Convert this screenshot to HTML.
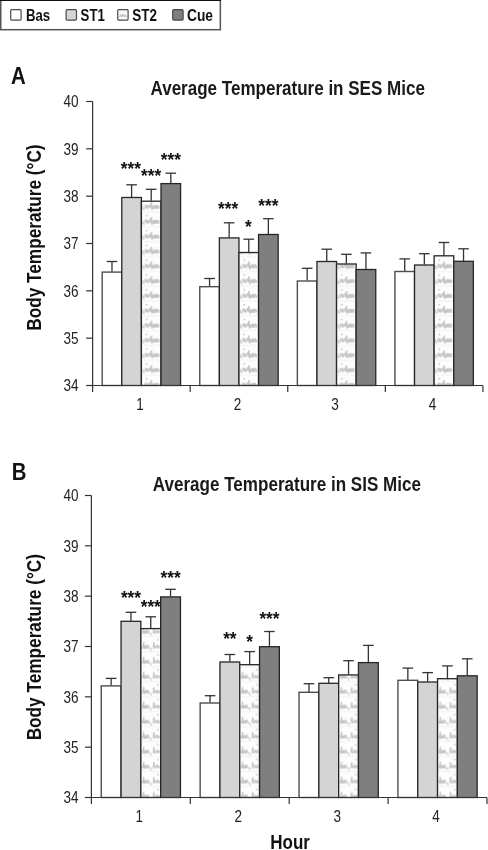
<!DOCTYPE html>
<html><head><meta charset="utf-8"><style>
html,body{margin:0;padding:0;background:#fff;}
svg{display:block;will-change:transform;}
text{font-family:"Liberation Sans",sans-serif;fill:#111;}
.tick{font-size:16.5px;fill:#222;}
.star{font-size:18px;font-weight:bold;text-anchor:middle;}
.title{font-size:20px;font-weight:bold;fill:#1a1a1a;}
.letter{font-size:24px;font-weight:bold;}
.ylab{font-size:21px;font-weight:bold;}
.leg{font-size:16px;font-weight:bold;}
.ax{stroke:#333;stroke-width:1.2;}
.eb{stroke:#333;stroke-width:1.3;}
.bar{stroke:#262626;stroke-width:1.3;}
.bas{stroke:#4e4e4e;stroke-width:1.4;}
.lb{stroke:#4a4a4a;stroke-width:1.2;}
</style></head><body>
<svg width="488" height="850" viewBox="0 0 488 850">
<defs>
<pattern id="p0" patternUnits="userSpaceOnUse" x="141.39" y="199.19" width="60" height="14.83"><rect width="60" height="14.83" fill="#fdfdfd"/><path d="M1.2,-0.8 L1.6,1.8 L2.6,2.4 L3.4,0.2 L4.2,-1.4 L5.1,1.4 L6,-1.2 L6.8,1.6 L7.6,-0.2 L8.4,-1.6 L9.2,1.2 L10,-3.3 L10.7,2.6 L11.6,-0.6 L12.4,1.8 L13.2,-1.2 L14,1.8 L14.8,-1.2 L15.6,1.6 L16.4,-1.2 L17.2,1.6 L18,-0.6" transform="translate(0,7.42) scale(1,1.35)" fill="none" stroke="#b6b6b6" stroke-width="0.7" stroke-linejoin="round"/><line x1="1" y1="12.82" x2="19" y2="12.82" stroke="#ececec" stroke-width="0.8"/><circle cx="5.3" cy="1.71" r="0.85" fill="#c4c4c4"/></pattern>
<pattern id="p1" patternUnits="userSpaceOnUse" x="238.97" y="199.19" width="60" height="14.83"><rect width="60" height="14.83" fill="#fdfdfd"/><path d="M1.2,-0.8 L1.6,1.8 L2.6,2.4 L3.4,0.2 L4.2,-1.4 L5.1,1.4 L6,-1.2 L6.8,1.6 L7.6,-0.2 L8.4,-1.6 L9.2,1.2 L10,-3.3 L10.7,2.6 L11.6,-0.6 L12.4,1.8 L13.2,-1.2 L14,1.8 L14.8,-1.2 L15.6,1.6 L16.4,-1.2 L17.2,1.6 L18,-0.6" transform="translate(0,7.42) scale(1,1.35)" fill="none" stroke="#b6b6b6" stroke-width="0.7" stroke-linejoin="round"/><line x1="1" y1="12.82" x2="19" y2="12.82" stroke="#ececec" stroke-width="0.8"/><circle cx="5.3" cy="1.71" r="0.85" fill="#c4c4c4"/></pattern>
<pattern id="p2" patternUnits="userSpaceOnUse" x="336.55" y="199.19" width="60" height="14.83"><rect width="60" height="14.83" fill="#fdfdfd"/><path d="M1.2,-0.8 L1.6,1.8 L2.6,2.4 L3.4,0.2 L4.2,-1.4 L5.1,1.4 L6,-1.2 L6.8,1.6 L7.6,-0.2 L8.4,-1.6 L9.2,1.2 L10,-3.3 L10.7,2.6 L11.6,-0.6 L12.4,1.8 L13.2,-1.2 L14,1.8 L14.8,-1.2 L15.6,1.6 L16.4,-1.2 L17.2,1.6 L18,-0.6" transform="translate(0,7.42) scale(1,1.35)" fill="none" stroke="#b6b6b6" stroke-width="0.7" stroke-linejoin="round"/><line x1="1" y1="12.82" x2="19" y2="12.82" stroke="#ececec" stroke-width="0.8"/><circle cx="5.3" cy="1.71" r="0.85" fill="#c4c4c4"/></pattern>
<pattern id="p3" patternUnits="userSpaceOnUse" x="434.13" y="199.19" width="60" height="14.83"><rect width="60" height="14.83" fill="#fdfdfd"/><path d="M1.2,-0.8 L1.6,1.8 L2.6,2.4 L3.4,0.2 L4.2,-1.4 L5.1,1.4 L6,-1.2 L6.8,1.6 L7.6,-0.2 L8.4,-1.6 L9.2,1.2 L10,-3.3 L10.7,2.6 L11.6,-0.6 L12.4,1.8 L13.2,-1.2 L14,1.8 L14.8,-1.2 L15.6,1.6 L16.4,-1.2 L17.2,1.6 L18,-0.6" transform="translate(0,7.42) scale(1,1.35)" fill="none" stroke="#b6b6b6" stroke-width="0.7" stroke-linejoin="round"/><line x1="1" y1="12.82" x2="19" y2="12.82" stroke="#ececec" stroke-width="0.8"/><circle cx="5.3" cy="1.71" r="0.85" fill="#c4c4c4"/></pattern>
<pattern id="p4" patternUnits="userSpaceOnUse" x="140.85" y="623.71" width="60" height="14.98"><rect width="60" height="14.98" fill="#fdfdfd"/><path d="M1.2,-0.5 L2,1.8 L2.8,-3 L3.4,2 L4.3,-0.5 L5,1.8 L5.8,-0.8 L6.6,1.8 L7.4,-0.8 L8.3,1.6 L9.4,1.2 L10.6,3.4 M12,1.8 L13,-2.8 L14,1.8 L14.4,0 M14.8,1.2 L15.6,-0.8 L16.4,1.6 L17.2,-0.8 L18,1.6 L18.6,-0.2" transform="translate(0,7.49) scale(1,1.35)" fill="none" stroke="#b6b6b6" stroke-width="0.7" stroke-linejoin="round"/><line x1="1" y1="12.89" x2="19" y2="12.89" stroke="#ececec" stroke-width="0.8"/><circle cx="17.1" cy="1.09" r="0.85" fill="#c4c4c4"/></pattern>
<pattern id="p5" patternUnits="userSpaceOnUse" x="239.75" y="623.71" width="60" height="14.98"><rect width="60" height="14.98" fill="#fdfdfd"/><path d="M1.2,-0.5 L2,1.8 L2.8,-3 L3.4,2 L4.3,-0.5 L5,1.8 L5.8,-0.8 L6.6,1.8 L7.4,-0.8 L8.3,1.6 L9.4,1.2 L10.6,3.4 M12,1.8 L13,-2.8 L14,1.8 L14.4,0 M14.8,1.2 L15.6,-0.8 L16.4,1.6 L17.2,-0.8 L18,1.6 L18.6,-0.2" transform="translate(0,7.49) scale(1,1.35)" fill="none" stroke="#b6b6b6" stroke-width="0.7" stroke-linejoin="round"/><line x1="1" y1="12.89" x2="19" y2="12.89" stroke="#ececec" stroke-width="0.8"/><circle cx="17.1" cy="1.09" r="0.85" fill="#c4c4c4"/></pattern>
<pattern id="p6" patternUnits="userSpaceOnUse" x="338.65" y="623.71" width="60" height="14.98"><rect width="60" height="14.98" fill="#fdfdfd"/><path d="M1.2,-0.5 L2,1.8 L2.8,-3 L3.4,2 L4.3,-0.5 L5,1.8 L5.8,-0.8 L6.6,1.8 L7.4,-0.8 L8.3,1.6 L9.4,1.2 L10.6,3.4 M12,1.8 L13,-2.8 L14,1.8 L14.4,0 M14.8,1.2 L15.6,-0.8 L16.4,1.6 L17.2,-0.8 L18,1.6 L18.6,-0.2" transform="translate(0,7.49) scale(1,1.35)" fill="none" stroke="#b6b6b6" stroke-width="0.7" stroke-linejoin="round"/><line x1="1" y1="12.89" x2="19" y2="12.89" stroke="#ececec" stroke-width="0.8"/><circle cx="17.1" cy="1.09" r="0.85" fill="#c4c4c4"/></pattern>
<pattern id="p7" patternUnits="userSpaceOnUse" x="437.55" y="623.71" width="60" height="14.98"><rect width="60" height="14.98" fill="#fdfdfd"/><path d="M1.2,-0.5 L2,1.8 L2.8,-3 L3.4,2 L4.3,-0.5 L5,1.8 L5.8,-0.8 L6.6,1.8 L7.4,-0.8 L8.3,1.6 L9.4,1.2 L10.6,3.4 M12,1.8 L13,-2.8 L14,1.8 L14.4,0 M14.8,1.2 L15.6,-0.8 L16.4,1.6 L17.2,-0.8 L18,1.6 L18.6,-0.2" transform="translate(0,7.49) scale(1,1.35)" fill="none" stroke="#b6b6b6" stroke-width="0.7" stroke-linejoin="round"/><line x1="1" y1="12.89" x2="19" y2="12.89" stroke="#ececec" stroke-width="0.8"/><circle cx="17.1" cy="1.09" r="0.85" fill="#c4c4c4"/></pattern>

</defs>
<rect width="488" height="850" fill="#fff"/>

<rect x="0.75" y="-1" width="219.6" height="30.7" fill="#fff" stroke="#555" stroke-width="1.5"/>
<line x1="0" y1="0.5" x2="221" y2="0.5" stroke="#111" stroke-width="1.2"/>
<rect x="10.7" y="9.7" width="10.4" height="10.4" rx="1" fill="#fff" class="lb"/>
<rect x="66.1" y="9.7" width="10.4" height="10.4" rx="1" fill="#d4d4d4" class="lb"/>
<rect x="117.7" y="9.7" width="10.4" height="10.4" rx="1" fill="#fafafa" class="lb"/>
<path d="M119,15.5 L119.8,17 L120.6,14.8 L121.4,16.8 L122.2,14.2 L123,16.6 L123.8,14.6 L124.6,16.8 L125.4,14.8 L126.2,16.8 L127.2,15.6" fill="none" stroke="#b8b8b8" stroke-width="0.9"/>
<rect x="172.7" y="9.7" width="10.4" height="10.4" rx="1" fill="#7f7f7f" class="lb"/>
<text class="leg" transform="translate(26.0,21.0) scale(0.825,1)">Bas</text>
<text class="leg" transform="translate(80.6,21.0) scale(0.825,1)">ST1</text>
<text class="leg" transform="translate(132.3,21.0) scale(0.843,1)">ST2</text>
<text class="leg" transform="translate(187.0,21.0) scale(0.861,1)">Cue</text>

<line x1="111.99" y1="271.70" x2="111.99" y2="261.50" class="eb"/>
<line x1="106.69" y1="261.50" x2="117.29" y2="261.50" class="eb"/>
<rect x="102.19" y="272.10" width="19.60" height="113.40" fill="#ffffff" class="bar bas"/>
<line x1="131.59" y1="197.10" x2="131.59" y2="184.80" class="eb"/>
<line x1="126.29" y1="184.80" x2="136.89" y2="184.80" class="eb"/>
<rect x="121.79" y="197.50" width="19.60" height="188.00" fill="#d4d4d4" class="bar"/>
<line x1="151.19" y1="200.80" x2="151.19" y2="189.30" class="eb"/>
<line x1="145.89" y1="189.30" x2="156.49" y2="189.30" class="eb"/>
<rect x="141.39" y="201.20" width="19.60" height="184.30" fill="url(#p0)" class="bar"/>
<line x1="170.79" y1="183.20" x2="170.79" y2="173.20" class="eb"/>
<line x1="165.49" y1="173.20" x2="176.09" y2="173.20" class="eb"/>
<rect x="160.99" y="183.60" width="19.60" height="201.90" fill="#7f7f7f" class="bar"/>
<line x1="209.57" y1="286.30" x2="209.57" y2="278.50" class="eb"/>
<line x1="204.27" y1="278.50" x2="214.87" y2="278.50" class="eb"/>
<rect x="199.77" y="286.70" width="19.60" height="98.80" fill="#ffffff" class="bar bas"/>
<line x1="229.17" y1="237.50" x2="229.17" y2="222.80" class="eb"/>
<line x1="223.87" y1="222.80" x2="234.47" y2="222.80" class="eb"/>
<rect x="219.37" y="237.90" width="19.60" height="147.60" fill="#d4d4d4" class="bar"/>
<line x1="248.77" y1="252.10" x2="248.77" y2="239.20" class="eb"/>
<line x1="243.47" y1="239.20" x2="254.07" y2="239.20" class="eb"/>
<rect x="238.97" y="252.50" width="19.60" height="133.00" fill="url(#p1)" class="bar"/>
<line x1="268.37" y1="234.10" x2="268.37" y2="218.70" class="eb"/>
<line x1="263.07" y1="218.70" x2="273.67" y2="218.70" class="eb"/>
<rect x="258.57" y="234.50" width="19.60" height="151.00" fill="#7f7f7f" class="bar"/>
<line x1="307.15" y1="280.60" x2="307.15" y2="268.30" class="eb"/>
<line x1="301.85" y1="268.30" x2="312.45" y2="268.30" class="eb"/>
<rect x="297.35" y="281.00" width="19.60" height="104.50" fill="#ffffff" class="bar bas"/>
<line x1="326.75" y1="261.10" x2="326.75" y2="249.20" class="eb"/>
<line x1="321.45" y1="249.20" x2="332.05" y2="249.20" class="eb"/>
<rect x="316.95" y="261.50" width="19.60" height="124.00" fill="#d4d4d4" class="bar"/>
<line x1="346.35" y1="263.60" x2="346.35" y2="254.30" class="eb"/>
<line x1="341.05" y1="254.30" x2="351.65" y2="254.30" class="eb"/>
<rect x="336.55" y="264.00" width="19.60" height="121.50" fill="url(#p2)" class="bar"/>
<line x1="365.95" y1="269.10" x2="365.95" y2="252.90" class="eb"/>
<line x1="360.65" y1="252.90" x2="371.25" y2="252.90" class="eb"/>
<rect x="356.15" y="269.50" width="19.60" height="116.00" fill="#7f7f7f" class="bar"/>
<line x1="404.73" y1="271.10" x2="404.73" y2="258.90" class="eb"/>
<line x1="399.43" y1="258.90" x2="410.03" y2="258.90" class="eb"/>
<rect x="394.93" y="271.50" width="19.60" height="114.00" fill="#ffffff" class="bar bas"/>
<line x1="424.33" y1="264.60" x2="424.33" y2="253.70" class="eb"/>
<line x1="419.03" y1="253.70" x2="429.63" y2="253.70" class="eb"/>
<rect x="414.53" y="265.00" width="19.60" height="120.50" fill="#d4d4d4" class="bar"/>
<line x1="443.93" y1="255.40" x2="443.93" y2="242.50" class="eb"/>
<line x1="438.63" y1="242.50" x2="449.23" y2="242.50" class="eb"/>
<rect x="434.13" y="255.80" width="19.60" height="129.70" fill="url(#p3)" class="bar"/>
<line x1="463.53" y1="260.90" x2="463.53" y2="248.80" class="eb"/>
<line x1="458.23" y1="248.80" x2="468.83" y2="248.80" class="eb"/>
<rect x="453.73" y="261.30" width="19.60" height="124.20" fill="#7f7f7f" class="bar"/>
<text class="star" transform="translate(130.79,175.00) scale(0.96,1)">***</text>
<text class="star" transform="translate(151.19,181.80) scale(0.96,1)">***</text>
<text class="star" transform="translate(170.79,166.40) scale(0.96,1)">***</text>
<text class="star" transform="translate(228.17,215.00) scale(0.96,1)">***</text>
<text class="star" transform="translate(248.27,233.40) scale(0.96,1)">*</text>
<text class="star" transform="translate(268.37,211.90) scale(0.96,1)">***</text>
<line x1="92.6" y1="101.50" x2="92.6" y2="392.00" class="ax"/>
<line x1="92.6" y1="385.50" x2="483.0" y2="385.50" class="ax"/>
<line x1="86.10" y1="101.50" x2="92.6" y2="101.50" class="ax"/>
<text class="tick" text-anchor="end" transform="translate(78.60,107.30) scale(0.82,1)">40</text>
<line x1="86.10" y1="148.83" x2="92.6" y2="148.83" class="ax"/>
<text class="tick" text-anchor="end" transform="translate(78.60,154.63) scale(0.82,1)">39</text>
<line x1="86.10" y1="196.17" x2="92.6" y2="196.17" class="ax"/>
<text class="tick" text-anchor="end" transform="translate(78.60,201.97) scale(0.82,1)">38</text>
<line x1="86.10" y1="243.50" x2="92.6" y2="243.50" class="ax"/>
<text class="tick" text-anchor="end" transform="translate(78.60,249.30) scale(0.82,1)">37</text>
<line x1="86.10" y1="290.83" x2="92.6" y2="290.83" class="ax"/>
<text class="tick" text-anchor="end" transform="translate(78.60,296.63) scale(0.82,1)">36</text>
<line x1="86.10" y1="338.16" x2="92.6" y2="338.16" class="ax"/>
<text class="tick" text-anchor="end" transform="translate(78.60,343.96) scale(0.82,1)">35</text>
<line x1="86.10" y1="385.50" x2="92.6" y2="385.50" class="ax"/>
<text class="tick" text-anchor="end" transform="translate(78.60,391.30) scale(0.82,1)">34</text>
<line x1="190.18" y1="385.50" x2="190.18" y2="392.00" class="ax"/>
<line x1="287.76" y1="385.50" x2="287.76" y2="392.00" class="ax"/>
<line x1="385.34" y1="385.50" x2="385.34" y2="392.00" class="ax"/>
<line x1="482.92" y1="385.50" x2="482.92" y2="392.00" class="ax"/>
<text class="tick" text-anchor="middle" transform="translate(139.89,410.00) scale(0.82,1)">1</text>
<text class="tick" text-anchor="middle" transform="translate(237.47,410.00) scale(0.82,1)">2</text>
<text class="tick" text-anchor="middle" transform="translate(335.05,410.00) scale(0.82,1)">3</text>
<text class="tick" text-anchor="middle" transform="translate(432.63,410.00) scale(0.82,1)">4</text>
<text class="title" transform="translate(150.50,94.50) scale(0.852,1)">Average Temperature in SES Mice</text>
<text class="letter" transform="translate(11.0,84.20) scale(0.85,1)">A</text>
<text class="ylab" text-anchor="middle" transform="translate(41,237.60) rotate(-90) scale(0.82,1)">Body Temperature (°C)</text>
<line x1="111.15" y1="685.50" x2="111.15" y2="678.40" class="eb"/>
<line x1="105.85" y1="678.40" x2="116.45" y2="678.40" class="eb"/>
<rect x="101.25" y="685.90" width="19.80" height="111.60" fill="#ffffff" class="bar bas"/>
<line x1="130.95" y1="620.90" x2="130.95" y2="612.30" class="eb"/>
<line x1="125.65" y1="612.30" x2="136.25" y2="612.30" class="eb"/>
<rect x="121.05" y="621.30" width="19.80" height="176.20" fill="#d4d4d4" class="bar"/>
<line x1="150.75" y1="628.20" x2="150.75" y2="616.80" class="eb"/>
<line x1="145.45" y1="616.80" x2="156.05" y2="616.80" class="eb"/>
<rect x="140.85" y="628.60" width="19.80" height="168.90" fill="url(#p4)" class="bar"/>
<line x1="170.55" y1="596.50" x2="170.55" y2="589.30" class="eb"/>
<line x1="165.25" y1="589.30" x2="175.85" y2="589.30" class="eb"/>
<rect x="160.65" y="596.90" width="19.80" height="200.60" fill="#7f7f7f" class="bar"/>
<line x1="210.05" y1="702.60" x2="210.05" y2="695.70" class="eb"/>
<line x1="204.75" y1="695.70" x2="215.35" y2="695.70" class="eb"/>
<rect x="200.15" y="703.00" width="19.80" height="94.50" fill="#ffffff" class="bar bas"/>
<line x1="229.85" y1="661.60" x2="229.85" y2="654.50" class="eb"/>
<line x1="224.55" y1="654.50" x2="235.15" y2="654.50" class="eb"/>
<rect x="219.95" y="662.00" width="19.80" height="135.50" fill="#d4d4d4" class="bar"/>
<line x1="249.65" y1="664.30" x2="249.65" y2="651.60" class="eb"/>
<line x1="244.35" y1="651.60" x2="254.95" y2="651.60" class="eb"/>
<rect x="239.75" y="664.70" width="19.80" height="132.80" fill="url(#p5)" class="bar"/>
<line x1="269.45" y1="646.30" x2="269.45" y2="631.50" class="eb"/>
<line x1="264.15" y1="631.50" x2="274.75" y2="631.50" class="eb"/>
<rect x="259.55" y="646.70" width="19.80" height="150.80" fill="#7f7f7f" class="bar"/>
<line x1="308.95" y1="691.90" x2="308.95" y2="683.70" class="eb"/>
<line x1="303.65" y1="683.70" x2="314.25" y2="683.70" class="eb"/>
<rect x="299.05" y="692.30" width="19.80" height="105.20" fill="#ffffff" class="bar bas"/>
<line x1="328.75" y1="682.90" x2="328.75" y2="677.70" class="eb"/>
<line x1="323.45" y1="677.70" x2="334.05" y2="677.70" class="eb"/>
<rect x="318.85" y="683.30" width="19.80" height="114.20" fill="#d4d4d4" class="bar"/>
<line x1="348.55" y1="674.50" x2="348.55" y2="660.70" class="eb"/>
<line x1="343.25" y1="660.70" x2="353.85" y2="660.70" class="eb"/>
<rect x="338.65" y="674.90" width="19.80" height="122.60" fill="url(#p6)" class="bar"/>
<line x1="368.35" y1="662.20" x2="368.35" y2="645.40" class="eb"/>
<line x1="363.05" y1="645.40" x2="373.65" y2="645.40" class="eb"/>
<rect x="358.45" y="662.60" width="19.80" height="134.90" fill="#7f7f7f" class="bar"/>
<line x1="407.85" y1="679.90" x2="407.85" y2="668.10" class="eb"/>
<line x1="402.55" y1="668.10" x2="413.15" y2="668.10" class="eb"/>
<rect x="397.95" y="680.30" width="19.80" height="117.20" fill="#ffffff" class="bar bas"/>
<line x1="427.65" y1="681.60" x2="427.65" y2="672.60" class="eb"/>
<line x1="422.35" y1="672.60" x2="432.95" y2="672.60" class="eb"/>
<rect x="417.75" y="682.00" width="19.80" height="115.50" fill="#d4d4d4" class="bar"/>
<line x1="447.45" y1="678.30" x2="447.45" y2="665.90" class="eb"/>
<line x1="442.15" y1="665.90" x2="452.75" y2="665.90" class="eb"/>
<rect x="437.55" y="678.70" width="19.80" height="118.80" fill="url(#p7)" class="bar"/>
<line x1="467.25" y1="675.40" x2="467.25" y2="658.80" class="eb"/>
<line x1="461.95" y1="658.80" x2="472.55" y2="658.80" class="eb"/>
<rect x="457.35" y="675.80" width="19.80" height="121.70" fill="#7f7f7f" class="bar"/>
<text class="star" transform="translate(130.95,604.10) scale(0.96,1)">***</text>
<text class="star" transform="translate(150.75,612.70) scale(0.96,1)">***</text>
<text class="star" transform="translate(170.55,584.00) scale(0.96,1)">***</text>
<text class="star" transform="translate(229.85,644.80) scale(0.96,1)">**</text>
<text class="star" transform="translate(249.65,648.30) scale(0.96,1)">*</text>
<text class="star" transform="translate(269.45,625.40) scale(0.96,1)">***</text>
<line x1="91.4" y1="495.50" x2="91.4" y2="804.00" class="ax"/>
<line x1="91.4" y1="797.50" x2="487.0" y2="797.50" class="ax"/>
<line x1="84.90" y1="495.50" x2="91.4" y2="495.50" class="ax"/>
<text class="tick" text-anchor="end" transform="translate(78.60,501.30) scale(0.82,1)">40</text>
<line x1="84.90" y1="545.83" x2="91.4" y2="545.83" class="ax"/>
<text class="tick" text-anchor="end" transform="translate(78.60,551.63) scale(0.82,1)">39</text>
<line x1="84.90" y1="596.17" x2="91.4" y2="596.17" class="ax"/>
<text class="tick" text-anchor="end" transform="translate(78.60,601.97) scale(0.82,1)">38</text>
<line x1="84.90" y1="646.50" x2="91.4" y2="646.50" class="ax"/>
<text class="tick" text-anchor="end" transform="translate(78.60,652.30) scale(0.82,1)">37</text>
<line x1="84.90" y1="696.83" x2="91.4" y2="696.83" class="ax"/>
<text class="tick" text-anchor="end" transform="translate(78.60,702.63) scale(0.82,1)">36</text>
<line x1="84.90" y1="747.16" x2="91.4" y2="747.16" class="ax"/>
<text class="tick" text-anchor="end" transform="translate(78.60,752.96) scale(0.82,1)">35</text>
<line x1="84.90" y1="797.50" x2="91.4" y2="797.50" class="ax"/>
<text class="tick" text-anchor="end" transform="translate(78.60,803.30) scale(0.82,1)">34</text>
<line x1="190.30" y1="797.50" x2="190.30" y2="804.00" class="ax"/>
<line x1="289.20" y1="797.50" x2="289.20" y2="804.00" class="ax"/>
<line x1="388.10" y1="797.50" x2="388.10" y2="804.00" class="ax"/>
<line x1="487.00" y1="797.50" x2="487.00" y2="804.00" class="ax"/>
<text class="tick" text-anchor="middle" transform="translate(139.35,822.00) scale(0.82,1)">1</text>
<text class="tick" text-anchor="middle" transform="translate(238.25,822.00) scale(0.82,1)">2</text>
<text class="tick" text-anchor="middle" transform="translate(337.15,822.00) scale(0.82,1)">3</text>
<text class="tick" text-anchor="middle" transform="translate(436.05,822.00) scale(0.82,1)">4</text>
<text class="title" transform="translate(152.80,490.50) scale(0.853,1)">Average Temperature in SIS Mice</text>
<text class="letter" transform="translate(11.8,480.20) scale(0.85,1)">B</text>
<text class="ylab" text-anchor="middle" transform="translate(41,647.20) rotate(-90) scale(0.82,1)">Body Temperature (°C)</text>
<text class="ylab" text-anchor="middle" transform="translate(290.1,849.4) scale(0.81,1)">Hour</text>
</svg>
</body></html>
